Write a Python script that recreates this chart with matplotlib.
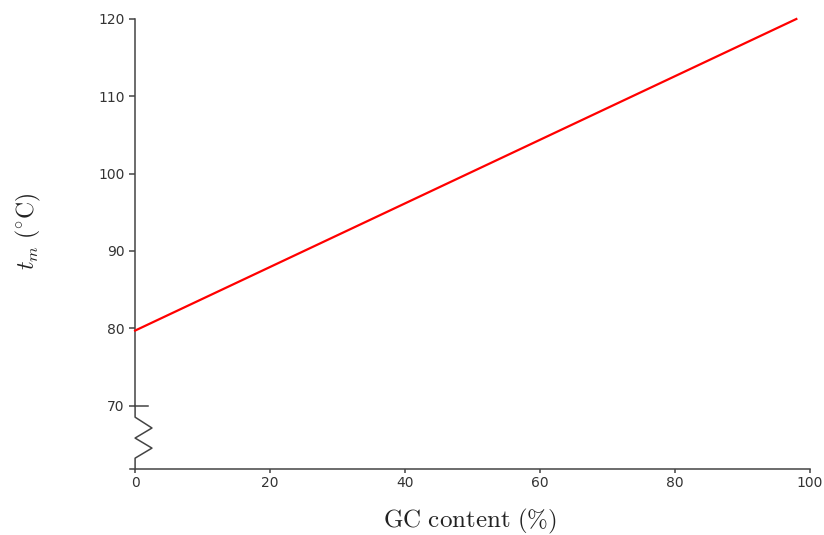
import matplotlib
matplotlib.use('Agg')
import matplotlib.pyplot as plt

plt.rcParams['mathtext.fontset'] = 'cm'
plt.rcParams['font.family'] = 'DejaVu Sans'

# Melting temperature vs GC content
gc_content = [0, 98]
tm_values = [79.7, 120.0]

x_ticks = [0, 20, 40, 60, 80, 100]
y_ticks = [70, 80, 90, 100, 110, 120]

# Axis break drawn below 70
y_floor = 61.8
break_y = [70, 68.5, 67.1, 65.8, 64.5, 63.2, y_floor]
break_x = [0, 0, 2.5, 0, 2.5, 0, 0]

axis_col = '#444444'
label_col = '#333333'

fig = plt.figure(figsize=(8.24, 5.35), dpi=100)
ax = fig.add_axes([0.1578, 0.1234, 0.825, 0.8411])

ax.plot(gc_content, tm_values, color='red', lw=1.6, clip_on=False, zorder=3)

ax.set_xlim(-0.75, 100)
ax.set_ylim(y_floor, 120)

for side in ['top', 'right']:
    ax.spines[side].set_visible(False)
ax.spines['left'].set_position(('data', 0))
ax.spines['left'].set_bounds(70, 120)
for side in ['left', 'bottom']:
    ax.spines[side].set_color(axis_col)
    ax.spines[side].set_linewidth(1.1)

# zigzag break and the inner half of the 70 tick
ax.plot(break_x, break_y, color=axis_col, lw=1.1, clip_on=False)
ax.plot([0, 1.9], [70, 70], color=axis_col, lw=1.1, clip_on=False)

ax.set_xticks(x_ticks)
ax.set_yticks(y_ticks)
ax.tick_params(axis='y', direction='out', length=4.5, width=1.1, color=axis_col,
               labelsize=10, labelcolor=label_col, pad=3)
ax.tick_params(axis='x', direction='out', length=3, width=1.1, color=axis_col,
               labelsize=10, labelcolor=label_col, pad=2)

fig.text(0.570, 0.026, r'$\mathrm{GC\ content\ (\%)}$', fontsize=18,
         ha='center', va='center', color='#222222')
fig.text(0.034, 0.567, r'$t_m\ (^{\circ}\mathrm{C})$', fontsize=17,
         ha='center', va='center', rotation=90, color='#222222')

fig.savefig('out.png', dpi=100)
